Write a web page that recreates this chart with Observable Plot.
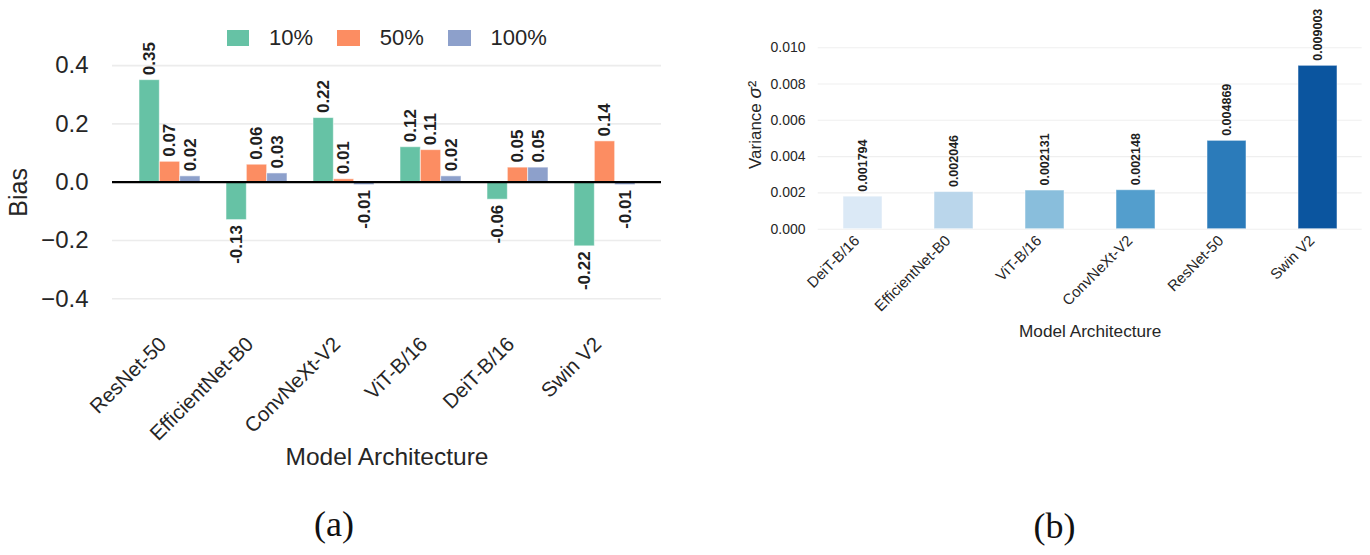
<!DOCTYPE html>
<html>
<head>
<meta charset="utf-8">
<script src="https://cdn.jsdelivr.net/npm/d3@7"></script>
<script src="https://cdn.jsdelivr.net/npm/@observablehq/plot@0.6"></script>
<style>
  html, body { margin: 0; padding: 0; background: #fff; }
  #page { position: relative; width: 1370px; height: 555px; overflow: hidden; background: #fff; font-family: "Liberation Sans", Arial, sans-serif; color: #262626; }
  #left { position: absolute; left: 0; top: 0; }
  #right { position: absolute; left: 730px; top: 0; }
  #legend { position: absolute; left: 226.7px; top: 25px; display: flex; align-items: center; font-size: 22px; color: #262626; }
  #legend .item { display: flex; align-items: center; margin-right: 24.3px; }
  #legend .sw { width: 22.7px; height: 15.3px; margin-right: 19.7px; }
  .cap { position: absolute; font-family: "Liberation Serif", "DejaVu Serif", serif; font-size: 36px; color: #111; transform: translate(-50%, -50%); white-space: nowrap; }
</style>
</head>
<body>
<div id="page">
  <div id="left"></div>
  <div id="legend"></div>
  <div id="right"></div>
  <div class="cap" style="left:334px; top:524px;">(a)</div>
  <div class="cap" style="left:1054.5px; top:526px;">(b)</div>
</div>
<script>
// ---------- Data: panel (a) ----------
const models = ["ResNet-50", "EfficientNet-B0", "ConvNeXt-V2", "ViT-B/16", "DeiT-B/16", "Swin V2"];
const seriesNames = ["10%", "50%", "100%"];
const bias10 = [0.35, -0.13, 0.22, 0.12, -0.06, -0.22];
const bias50 = [0.07, 0.06, 0.01, 0.11, 0.05, 0.14];
const bias100 = [0.02, 0.03, -0.01, 0.02, 0.05, -0.01];
const biasTicks = [-0.4, -0.2, 0.0, 0.2, 0.4];
const seriesColors = ["#66c2a5", "#fc8d62", "#8da0cb"];

// ---------- Data: panel (b) ----------
const varModels = ["DeiT-B/16", "EfficientNet-B0", "ViT-B/16", "ConvNeXt-V2", "ResNet-50", "Swin V2"];
const variance = [0.001794, 0.002046, 0.002131, 0.002148, 0.004869, 0.009003];
const varTicks = [0.000, 0.002, 0.004, 0.006, 0.008, 0.010];
const blues = ["#dbe9f6", "#bad6eb", "#89bedc", "#539ecd", "#2b7bba", "#0b559f"];

const FONT = "'Liberation Sans', Arial, sans-serif";
const TEXT = "#262626";

// ---------- Panel (a) ----------
(function () {
  const W = 680, H = 480;
  const M = {top: 50.5, right: 19, bottom: 146.7, left: 112};
  const seriesValues = [bias10, bias50, bias100];
  const rows = models.flatMap((m, i) => seriesNames.map((s, j) => ({model: m, series: s, bias: seriesValues[j][i]})));
  const xOpts = {type: "band", domain: models, paddingInner: 0.3045, paddingOuter: 0.282};
  const xs = Plot.scale({x: {...xOpts, range: [M.left, W - M.right]}});
  const bw = xs.bandwidth;

  const marks = [
    Plot.ruleY(biasTicks, {stroke: "#ececec", strokeWidth: 1.6})
  ];
  seriesNames.forEach((s, j) => {
    const d = rows.filter(r => r.series === s);
    marks.push(Plot.barY(d, {
      x: "model", y: "bias", fill: seriesColors[j],
      insetLeft: j * bw / 3, insetRight: (2 - j) * bw / 3,
      stroke: "#ffffff", strokeOpacity: 0.55, strokeWidth: 1
    }));
  });
  marks.push(Plot.ruleY([0], {stroke: "#000", strokeWidth: 2.2}));
  seriesNames.forEach((s, j) => {
    const d = rows.filter(r => r.series === s);
    const common = {x: "model", y: "bias", text: r => r.bias.toFixed(2), rotate: -90,
      dx: (j - 1) * bw / 3, fontSize: 17, fontWeight: "bold", fill: "#1f1f1f"};
    marks.push(Plot.text(d.filter(r => r.bias >= 0), {...common, textAnchor: "start", dy: -5}));
    marks.push(Plot.text(d.filter(r => r.bias < 0), {...common, textAnchor: "end", dy: 5}));
  });
  marks.push(Plot.axisY({ticks: biasTicks, tickFormat: d3.format(".1f"), tickSize: 0, tickPadding: 24, fontSize: 24, label: null, fill: TEXT}));
  marks.push(Plot.axisX({anchor: "bottom", tickRotate: -45, tickSize: 0, tickPadding: 7, dx: -7, fontSize: 20.5, label: null, fill: TEXT}));
  marks.push(Plot.text(["Bias"], {frameAnchor: "left", dx: -94, rotate: -90, textAnchor: "middle", lineAnchor: "middle", fontSize: 25, fill: TEXT}));
  marks.push(Plot.text(["Model Architecture"], {frameAnchor: "bottom", dy: 123.7, textAnchor: "middle", lineAnchor: "middle", fontSize: 24.5, fill: TEXT}));

  const chart = Plot.plot({
    width: W, height: H,
    marginTop: M.top, marginRight: M.right, marginBottom: M.bottom, marginLeft: M.left,
    style: {fontFamily: FONT, background: "transparent", color: TEXT, overflow: "visible"},
    x: {...xOpts, label: null},
    y: {domain: [-0.52, 0.45], label: null},
    marks
  });
  document.getElementById("left").appendChild(chart);

  const leg = document.getElementById("legend");
  seriesNames.forEach((s, j) => {
    const it = document.createElement("div");
    it.className = "item";
    const sw = document.createElement("div");
    sw.className = "sw";
    sw.style.background = seriesColors[j];
    const lb = document.createElement("span");
    lb.textContent = s;
    it.appendChild(sw); it.appendChild(lb);
    leg.appendChild(it);
  });
})();

// ---------- Panel (b) ----------
(function () {
  const W = 640, H = 350;
  const M = {top: 20, right: 8.3, bottom: 121.3, left: 87.7};
  const rows = varModels.map((m, i) => ({model: m, v: variance[i]}));
  const yTitle = "Variance σ²";
  const chart = Plot.plot({
    width: W, height: H,
    marginTop: M.top, marginRight: M.right, marginBottom: M.bottom, marginLeft: M.left,
    style: {fontFamily: FONT, background: "transparent", color: TEXT, overflow: "visible"},
    x: {type: "band", domain: varModels, paddingInner: 0.572, paddingOuter: 0.27, label: null},
    y: {domain: [0, 0.0115], label: null},
    color: {domain: varModels, range: blues},
    marks: [
      Plot.ruleY(varTicks, {stroke: "#efefef", strokeWidth: 1.1}),
      Plot.barY(rows, {x: "model", y: "v", fill: "model", stroke: "#ffffff", strokeOpacity: 0.5, strokeWidth: 1}),
      Plot.text(rows, {x: "model", y: "v", text: r => r.v.toFixed(6), rotate: -90, textAnchor: "start", dy: -5,
        fontSize: 12.5, fontWeight: "bold", fill: "#1f1f1f"}),
      Plot.axisY({ticks: varTicks, tickFormat: d3.format(".3f"), tickSize: 0, tickPadding: 12.7, fontSize: 14, label: null, fill: TEXT}),
      Plot.axisX({anchor: "bottom", tickRotate: -45, tickSize: 0, tickPadding: 9, dx: -6, fontSize: 15, label: null, fill: TEXT}),
      Plot.text([yTitle], {frameAnchor: "left", dx: -63, rotate: -90, textAnchor: "middle", lineAnchor: "middle", fontSize: 17, fill: TEXT}),
      Plot.text(["Model Architecture"], {frameAnchor: "bottom", dy: 102.3, textAnchor: "middle", lineAnchor: "middle", fontSize: 17.2, fill: TEXT})
    ]
  });
  // italic sigma in the y title, as in the reference's math text
  d3.select(chart).selectAll("text").filter(function () { return this.textContent === yTitle; })
    .each(function () {
      const t = d3.select(this);
      t.text(null);
      t.append("tspan").text("Variance ");
      t.append("tspan").attr("font-style", "italic").attr("font-size", "19").text("σ");
      t.append("tspan").attr("font-size", "19").text("²");
    });
  document.getElementById("right").appendChild(chart);
})();
</script>
</body>
</html>
